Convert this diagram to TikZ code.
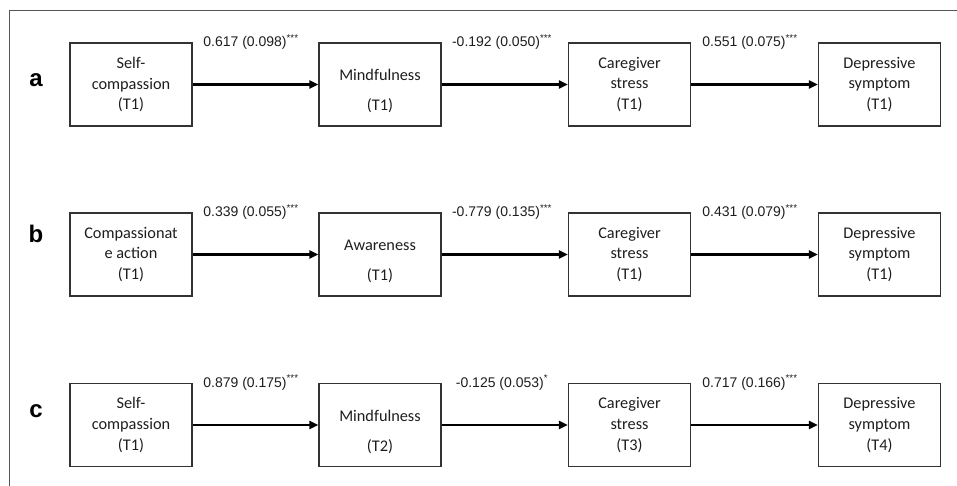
\documentclass[tikz,border=0pt]{standalone}
\usepackage{fontspec}
\setmainfont{Carlito}
\newfontfamily\arialf{Liberation Sans}
\usetikzlibrary{arrows.meta}
\definecolor{boxc}{HTML}{333333}
\definecolor{framec}{HTML}{555555}
\definecolor{txtc}{HTML}{1E1E1E}
\tikzset{
  box/.style={draw=boxc, line width=1.3pt, minimum width=122pt, minimum height=83pt,
    inner sep=0pt, align=center, text=txtc, font=\fontsize{16.3}{20.7}\selectfont},
  lbl/.style={font=\arialf\fontsize{14}{16}\selectfont, anchor=base, inner sep=0pt, text=txtc},
  letter/.style={font=\arialf\bfseries\fontsize{24}{26}\selectfont, anchor=base, inner sep=0pt},
  arr/.style={line width=2.6pt, -{Triangle[length=9pt,width=8pt]}},
  framel/.style={draw=framec, line width=1pt}
}
\newcommand{\twoline}[2]{\rule{0pt}{24.7pt}#1\\[9.5pt]#2}
\begin{document}
\begin{tikzpicture}[x=1pt,y=-1pt]
\useasboundingbox (0,0) rectangle (957,486);
\coordinate (fr1) at (957,11);
\coordinate (fr2) at (9,11);
\coordinate (fr3) at (9,486);
\draw[framel] (fr1) -- (fr2) -- (fr3);

% row a
\node[letter] (la) at (36,87) {a};
\node[box] (a1) at (131,84.5) {Self-\\compassion\\(T1)};
\node[box] (a2) at (380,84.5) {\twoline{Mindfulness}{(T1)}};
\node[box] (a3) at (629.5,84.5) {Caregiver\\stress\\(T1)};
\node[box] (a4) at (879.5,84.5) {Depressive\\symptom\\(T1)};
\draw[arr] (a1) -- (a2);
\draw[arr] (a2) -- (a3);
\draw[arr] (a3) -- (a4);
\node[lbl] (ta1) at (251,47) {0.617 (0.098)\textsuperscript{***}};
\node[lbl] (ta2) at (502,47) {-0.192 (0.050)\textsuperscript{***}};
\node[lbl] (ta3) at (750,47) {0.551 (0.075)\textsuperscript{***}};

% row b
\node[letter] (lb) at (36,242) {b};
\node[box] (b1) at (131,254.5) {Compassionat\\e action\\(T1)};
\node[box] (b2) at (380,254.5) {\twoline{Awareness}{(T1)}};
\node[box] (b3) at (629.5,254.5) {Caregiver\\stress\\(T1)};
\node[box] (b4) at (879.5,254.5) {Depressive\\symptom\\(T1)};
\draw[arr] (b1) -- (b2);
\draw[arr] (b2) -- (b3);
\draw[arr] (b3) -- (b4);
\node[lbl] (tb1) at (251,217) {0.339 (0.055)\textsuperscript{***}};
\node[lbl] (tb2) at (502,217) {-0.779 (0.135)\textsuperscript{***}};
\node[lbl] (tb3) at (750,217) {0.431 (0.079)\textsuperscript{***}};

% row c
\node[letter] (lc) at (36,417) {c};
\node[box] (c1) at (131,425) {Self-\\compassion\\(T1)};
\node[box] (c2) at (380,425) {\twoline{Mindfulness}{(T2)}};
\node[box] (c3) at (629.5,425) {Caregiver\\stress\\(T3)};
\node[box] (c4) at (879.5,425) {Depressive\\symptom\\(T4)};
\draw[arr] (c1) -- (c2);
\draw[arr] (c2) -- (c3);
\draw[arr] (c3) -- (c4);
\node[lbl] (tc1) at (251,387) {0.879 (0.175)\textsuperscript{***}};
\node[lbl] (tc2) at (502,387) {-0.125 (0.053)\textsuperscript{*}};
\node[lbl] (tc3) at (750,387) {0.717 (0.166)\textsuperscript{***}};
\end{tikzpicture}
\end{document}
